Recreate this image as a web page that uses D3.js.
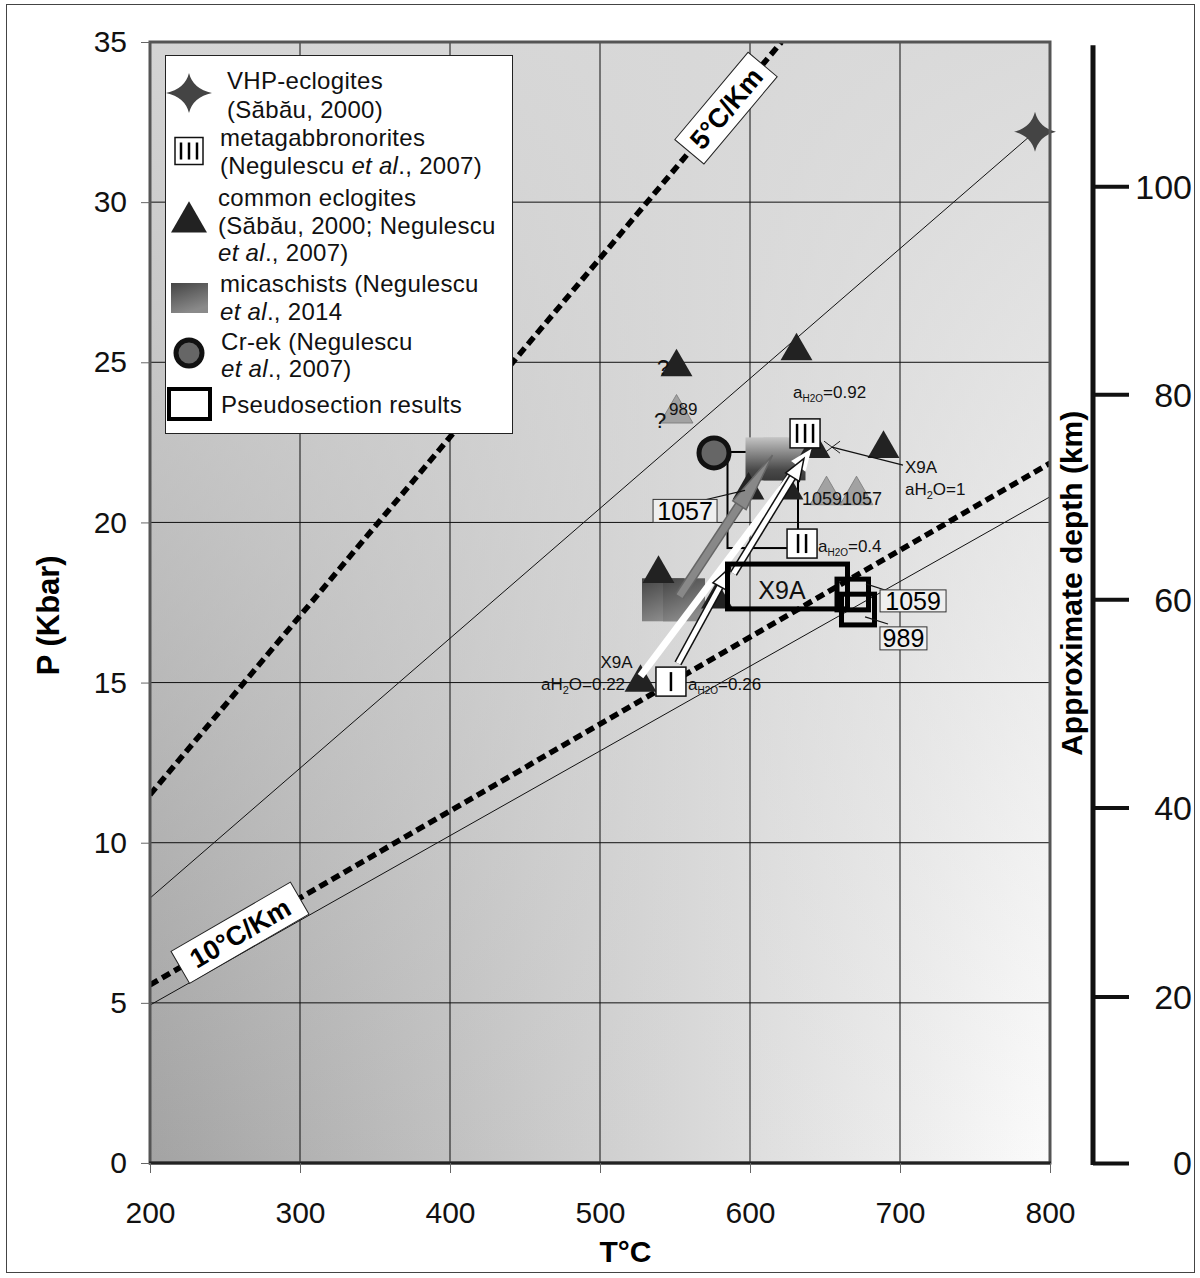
<!DOCTYPE html>
<html><head><meta charset="utf-8">
<script src="https://cdn.jsdelivr.net/npm/d3@7"></script>
<style>body{margin:0;background:#fff} svg{display:block;font-family:"Liberation Sans",Arial,sans-serif}</style>
</head><body><svg id="c" width="1200" height="1278"></svg>
<script>
// ---------- data ----------
const temperatureTicks=[200,300,400,500,600,700,800];
const pressureTicks=[0,5,10,15,20,25,30,35];
const depthTicks=[0,20,40,60,80,100];
const depthTickPressure=[0,5.2,11.1,17.6,24.0,30.5];

const geotherm5=[[200,11.5],[621,35]];
const geotherm10=[[200,5.56],[800,21.85]];
const thinGeotherms=[[[200,8.27],[790,32.2]],[[200,4.93],[800,20.8]]];

const vhpEclogites=[[790,32.2]];
const commonEclogites=[[551,24.85],[631,25.35],[689,22.3],[539,18.4],[527,15.0],[599,21.0],[625,21.0],[578,17.6],[643,22.3]];
const grayEclogites=[[551,23.4],[651,20.85],[671,20.85]];
const micaschistsLow=[[542,17.6],[556,17.6]];
const micaschistsHigh=[[611,22.0],[623,22.0]];
const crEk=[[576,22.17]];
const metagabbro=[{T:636.7,P:22.78,n:3},{T:634.7,P:19.34,n:2},{T:547.3,P:15.03,n:1}];
const pseudosections=[{name:"X9A",T:[585,665],P:[17.3,18.7]},{name:"1059",T:[658,679],P:[17.27,18.23]},{name:"989",T:[661,683],P:[16.8,17.76]}];
const crEkBox={T:[585,632],P:[19.2,22.2]};
const whiteArrows=[{from:[527,15.2],to:[641,22.3],outline:false},{from:[552,15.6],to:[587,18.6],outline:true},{from:[589,18.4],to:[636,22.0],outline:true}];
const micaArrow={from:[553,17.7],to:[615,22.1]};
const crossMarker=[654.7,22.35];

const boxedLabels=[{t:"1057",T:556.7,P:20.36,w:64,h:23},{t:"1059",T:708.7,P:17.55,w:66,h:22},{t:"989",T:702.3,P:16.38,w:47,h:23}];
const leaders=[[[566.7,20.67],[596.7,21.0]],[[677.3,18.08],[692,17.86]],[[676.7,17.05],[692,16.83]],[[654.7,22.35],[702,21.79]]];
const plainLabels=[{t:"?",T:542,P:24.6,s:22,a:"middle"},{t:"?",T:540,P:22.95,s:22,a:"middle"},{t:"989",T:555.5,P:23.35,s:17,a:"middle"},
 {t:"1059",T:634.7,P:20.55,s:18,a:"start"},{t:"1057",T:661.3,P:20.55,s:18,a:"start"},
 {t:"X9A",T:703.3,P:21.54,s:17,a:"start"},{t:"X9A",T:511,P:15.45,s:17,a:"middle"},{t:"X9A",T:621.3,P:17.6,s:25,a:"middle"}];
const waterLabels=[{kind:"a",v:"=0.92",T:628.7,P:23.88,a:"start"},{kind:"a",v:"=0.4",T:645.3,P:19.08,a:"start"},{kind:"a",v:"=0.26",T:558.7,P:14.77,a:"start"},
 {kind:"H",v:"=1",T:703.3,P:20.86,a:"start"},{kind:"H",v:"=0.22",T:516.7,P:14.77,a:"end"}];
const geothermLabels=[{t:"5°C/Km",T:584,line:geotherm5,w:114,h:38},{t:"10°C/Km",T:260,line:geotherm10,w:138,h:37}];

const legendItems=[
 {sym:"star",lines:[["VHP-eclogites"],["(Săbău, 2000)"]]},
 {sym:"gabbro",lines:[["metagabbronorites"],["(Negulescu ",["et al"],"., 2007)"]]},
 {sym:"tri",lines:[["common eclogites"],["(Săbău, 2000; Negulescu"],[["et al"],"., 2007)"]]},
 {sym:"mica",lines:[["micaschists (Negulescu"],[["et al"],"., 2014"]]},
 {sym:"circle",lines:[["Cr-ek (Negulescu"],[["et al"],"., 2007)"]]},
 {sym:"pseudo",lines:[["Pseudosection results"]]}
];

// ---------- scales ----------
const svg=d3.select("#c");
const x=d3.scaleLinear().domain([200,800]).range([150,1050]);
const y=d3.scaleLinear().domain([0,35]).range([1163,42]);
const depthY=d3.scaleLinear().domain(depthTicks).range(depthTickPressure.map(p=>y(p)));
const X=p=>x(p[0]), Y=p=>y(p[1]);

// outer frame
svg.append("rect").attr("x",6.5).attr("y",4.5).attr("width",1188).attr("height",1268).attr("fill","#fff").attr("stroke","#444").attr("stroke-width",1);

const defs=svg.append("defs");
const gh=defs.append("linearGradient").attr("id","gh").attr("x1","0").attr("x2","1").attr("y1","0").attr("y2","0");
gh.append("stop").attr("offset","0").attr("stop-color","#a3a3a3");
gh.append("stop").attr("offset","1").attr("stop-color","#fbfbfb");
const gv=defs.append("linearGradient").attr("id","gv").attr("x1","0").attr("x2","0").attr("y1","0").attr("y2","1");
gv.append("stop").attr("offset","0").attr("stop-color","#d8d8d8").attr("stop-opacity",0.93);
gv.append("stop").attr("offset","1").attr("stop-color","#d8d8d8").attr("stop-opacity",0);
const mg=defs.append("linearGradient").attr("id","mica").attr("x1","0").attr("x2","0.4").attr("y1","0").attr("y2","1");
mg.append("stop").attr("offset","0").attr("stop-color","#444");
mg.append("stop").attr("offset","1").attr("stop-color","#8a8a8a");
const mg2=defs.append("linearGradient").attr("id","mica2").attr("x1","0").attr("x2","0").attr("y1","0").attr("y2","1");
mg2.append("stop").attr("offset","0").attr("stop-color","#c4c4c4");
mg2.append("stop").attr("offset","0.75").attr("stop-color","#4a4a4a");
mg2.append("stop").attr("offset","1").attr("stop-color","#3a3a3a");
defs.append("clipPath").attr("id","clip").append("rect").attr("x",x(200)).attr("y",y(35)).attr("width",x(800)-x(200)).attr("height",y(0)-y(35));

const pw=x(800)-x(200), ph=y(0)-y(35);
svg.append("rect").attr("x",x(200)).attr("y",y(35)).attr("width",pw).attr("height",ph).attr("fill","url(#gh)");
svg.append("rect").attr("x",x(200)).attr("y",y(35)).attr("width",pw).attr("height",ph).attr("fill","url(#gv)");

// grid
const grid=svg.append("g").attr("stroke","#111").attr("stroke-width",1);
temperatureTicks.slice(1,-1).forEach(t=>grid.append("line").attr("x1",x(t)).attr("x2",x(t)).attr("y1",y(0)).attr("y2",y(35)));
pressureTicks.slice(1,-1).forEach(p=>grid.append("line").attr("x1",x(200)).attr("x2",x(800)).attr("y1",y(p)).attr("y2",y(p)));

const plot=svg.append("g").attr("clip-path","url(#clip)");
const line=d3.line().x(X).y(Y);
thinGeotherms.forEach(l=>plot.append("path").attr("d",line(l)).attr("fill","none").attr("stroke","#111").attr("stroke-width",1));
[geotherm5,geotherm10].forEach(l=>plot.append("path").attr("d",line(l)).attr("fill","none").attr("stroke","#000").attr("stroke-width",5.5).attr("stroke-dasharray","9,5"));

// geotherm labels
geothermLabels.forEach(g=>{
  const [a,b]=g.line; const P=a[1]+(b[1]-a[1])*(g.T-a[0])/(b[0]-a[0]);
  const ang=Math.atan2(Y(b)-Y(a),X(b)-X(a))*180/Math.PI;
  const gg=svg.append("g").attr("transform",`translate(${x(g.T)},${y(P)}) rotate(${ang})`);
  gg.append("rect").attr("x",-g.w/2).attr("y",-g.h/2).attr("width",g.w).attr("height",g.h).attr("fill","#fff").attr("stroke","#222").attr("stroke-width",1);
  gg.append("text").attr("text-anchor","middle").attr("dy","0.36em").attr("font-size",27).attr("font-weight","bold").text(g.t);
});

// thin Cr-ek box
plot.append("rect").attr("x",x(crEkBox.T[0])).attr("y",y(crEkBox.P[1])).attr("width",x(crEkBox.T[1])-x(crEkBox.T[0])).attr("height",y(crEkBox.P[0])-y(crEkBox.P[1])).attr("fill","none").attr("stroke","#000").attr("stroke-width",2);

// symbols
const triPath=s=>d3.symbol(d3.symbolTriangle,s)();
function starPath(rx,ry,w){return `M${rx},0 Q${w},${w} 0,${ry} Q${-w},${w} ${-rx},0 Q${-w},${-w} 0,${-ry} Q${w},${-w} ${rx},0Z`;}

// micaschists
micaschistsLow.forEach(p=>plot.append("rect").attr("x",X(p)-21).attr("y",Y(p)-21).attr("width",42).attr("height",43).attr("fill","url(#mica)"));
micaschistsHigh.forEach(p=>plot.append("rect").attr("x",X(p)-21).attr("y",Y(p)-21).attr("width",42).attr("height",43).attr("fill","url(#mica2)"));

// gray triangles
grayEclogites.forEach(p=>plot.append("path").attr("d",triPath(470)).attr("transform",`translate(${X(p)},${Y(p)})`).attr("fill","#a2a2a2").attr("stroke","#777").attr("stroke-width",0.8));
// dark triangles
commonEclogites.forEach(p=>plot.append("path").attr("d",triPath(440)).attr("transform",`translate(${X(p)},${Y(p)})`).attr("fill","#222"));

// arrows
function drawArrow(g,a,b,opt){
  const x0=X(a),y0=Y(a),x1=X(b),y1=Y(b);
  const L=Math.hypot(x1-x0,y1-y0), ux=(x1-x0)/L, uy=(y1-y0)/L, nx=-uy, ny=ux;
  const hl=opt.hl, hw=opt.hw, bx=x1-ux*hl, by=y1-uy*hl;
  const head=`M${x1},${y1}L${bx+nx*hw},${by+ny*hw}L${bx-nx*hw},${by-ny*hw}Z`;
  if(opt.outline) g.append("line").attr("x1",x0).attr("y1",y0).attr("x2",bx).attr("y2",by).attr("stroke",opt.oc).attr("stroke-width",opt.w+3);
  g.append("line").attr("x1",x0).attr("y1",y0).attr("x2",bx+ux*2).attr("y2",by+uy*2).attr("stroke",opt.c).attr("stroke-width",opt.w);
  g.append("path").attr("d",head).attr("fill",opt.c).attr("stroke",opt.outline?opt.oc:"none").attr("stroke-width",1.5);
}
drawArrow(plot,micaArrow.from,micaArrow.to,{c:"#888",oc:"#666",outline:true,w:7,hl:60,hw:8});
whiteArrows.forEach(a=>drawArrow(plot,a.from,a.to,{c:"#fff",oc:"#111",outline:a.outline,w:a.outline?5:7,hl:22,hw:a.outline?8:9}));

// Cr-ek
crEk.forEach(p=>plot.append("circle").attr("cx",X(p)).attr("cy",Y(p)).attr("r",15).attr("fill","#666").attr("stroke","#111").attr("stroke-width",5));

// pseudosection rectangles
pseudosections.forEach(r=>plot.append("rect").attr("x",x(r.T[0])).attr("y",y(r.P[1])).attr("width",x(r.T[1])-x(r.T[0])).attr("height",y(r.P[0])-y(r.P[1])).attr("fill","none").attr("stroke","#000").attr("stroke-width",5));

// metagabbro boxes
function gabbro(g,cx,cy,n,w,h){
  g.append("rect").attr("x",cx-w/2).attr("y",cy-h/2).attr("width",w).attr("height",h).attr("fill","#fff").attr("stroke","#111").attr("stroke-width",1.5);
  for(let i=0;i<n;i++){const xx=cx+(i-(n-1)/2)*8; g.append("line").attr("x1",xx).attr("x2",xx).attr("y1",cy-h/2+5).attr("y2",cy+h/2-5).attr("stroke","#000").attr("stroke-width",2.5);}
}
metagabbro.forEach(m=>gabbro(plot,x(m.T),y(m.P),m.n,30,29));

// cross marker + leaders
plot.append("path").attr("d",`M${X(crossMarker)-8},${Y(crossMarker)-6}L${X(crossMarker)+8},${Y(crossMarker)+6}M${X(crossMarker)-8},${Y(crossMarker)+6}L${X(crossMarker)+8},${Y(crossMarker)-6}`).attr("stroke","#222").attr("stroke-width",1);
leaders.forEach(l=>plot.append("path").attr("d",line(l)).attr("stroke","#111").attr("stroke-width",1.2).attr("fill","none"));

// stars
vhpEclogites.forEach(p=>svg.append("path").attr("d",starPath(21,20,4)).attr("transform",`translate(${X(p)},${Y(p)})`).attr("fill","#444"));

// labels
boxedLabels.forEach(b=>{
  const cx=x(b.T),cy=y(b.P);
  plot.append("rect").attr("x",cx-b.w/2).attr("y",cy-b.h/2).attr("width",b.w).attr("height",b.h).attr("fill","#efefef").attr("stroke","#333").attr("stroke-width",1);
  plot.append("text").attr("x",cx).attr("y",cy).attr("dy","0.36em").attr("text-anchor","middle").attr("font-size",25).text(b.t);
});
plainLabels.forEach(l=>plot.append("text").attr("x",x(l.T)).attr("y",y(l.P)).attr("text-anchor",l.a).attr("font-size",l.s).attr("fill","#111").text(l.t));
waterLabels.forEach(w=>{
  const t=plot.append("text").attr("x",x(w.T)).attr("y",y(w.P)).attr("text-anchor",w.a).attr("font-size",17).attr("fill","#111");
  if(w.kind==="a"){t.append("tspan").text("a");t.append("tspan").attr("font-size",10).attr("dy",4).text("H2O");t.append("tspan").attr("dy",-4).text(w.v);}
  else{t.append("tspan").text("aH");t.append("tspan").attr("font-size",11).attr("dy",4).text("2");t.append("tspan").attr("dy",-4).text("O"+w.v);}
});

// frame
svg.append("rect").attr("x",x(200)).attr("y",y(35)).attr("width",pw).attr("height",ph).attr("fill","none").attr("stroke","#555").attr("stroke-width",3);
svg.append("line").attr("x1",x(200)-1).attr("x2",x(800)+1).attr("y1",y(0)).attr("y2",y(0)).attr("stroke","#222").attr("stroke-width",3);

// axes
const ax=svg.append("g").attr("transform",`translate(${x(200)},0)`).call(d3.axisLeft(y).tickValues(pressureTicks).tickSize(9).tickPadding(14));
ax.select(".domain").remove();
ax.selectAll("line").attr("stroke","#666");
ax.selectAll("text").attr("font-size",30).attr("font-family","Liberation Sans, Arial").attr("fill","#111");
const bx=svg.append("g").attr("transform",`translate(0,${y(0)})`).call(d3.axisBottom(x).tickValues(temperatureTicks).tickSize(10));
bx.select(".domain").remove();
bx.selectAll("line").attr("stroke","#666");
bx.selectAll("text").attr("y",60).attr("dy",0).attr("font-size",30).attr("font-family","Liberation Sans, Arial").attr("fill","#111");

const rx=1093;
svg.append("line").attr("x1",rx).attr("x2",rx).attr("y1",y(34.9)).attr("y2",y(0)+2).attr("stroke","#111").attr("stroke-width",5);
const ra=svg.append("g").attr("transform",`translate(${rx},0)`).call(d3.axisRight(depthY).tickValues(depthTicks).tickSize(36));
ra.select(".domain").remove();
ra.selectAll("line").attr("stroke","#111").attr("stroke-width",4);
ra.selectAll("text").attr("x",99).attr("text-anchor","end").attr("dy","0.35em").attr("font-size",34).attr("font-family","Liberation Sans, Arial").attr("fill","#111");

svg.append("text").attr("transform",`translate(59,${y(17.1)}) rotate(-90)`).attr("text-anchor","middle").attr("font-size",31).attr("font-weight","bold").text("P (Kbar)");
svg.append("text").attr("x",x(517)).attr("y",1262).attr("text-anchor","middle").attr("font-size",30).attr("font-weight","bold").text("T°C");
svg.append("text").attr("transform",`translate(1082,${y(18.1)}) rotate(-90)`).attr("text-anchor","middle").attr("font-size",30).attr("font-weight","bold").text("Approximate depth (km)");

// legend
const lg=svg.append("g");
lg.append("rect").attr("x",165.5).attr("y",55.5).attr("width",347).attr("height",378).attr("fill","#fff").attr("stroke","#222").attr("stroke-width",1);
const legendBase=[[89,118],[146,174],[206,234,261],[292,320],[350,377],[413]];
const legendTextX=[227,220,218,220,221,221];
const legendSymY=[93,151,219,298,353,404];
legendItems.forEach((it,i)=>{
  it.lines.forEach((ln,j)=>{
    const t=lg.append("text").attr("x",legendTextX[i]).attr("y",legendBase[i][j]).attr("font-size",24).attr("letter-spacing",0.3).attr("fill","#111");
    ln.forEach(seg=>{ if(Array.isArray(seg)) t.append("tspan").attr("font-style","italic").text(seg[0]); else t.append("tspan").text(seg);});
  });
  const midY=legendSymY[i], sx=189;
  if(it.sym==="star") lg.append("path").attr("d",starPath(23,20,4)).attr("transform",`translate(${sx},${midY})`).attr("fill","#444");
  if(it.sym==="gabbro") gabbro(lg,sx,midY,3,28,27);
  if(it.sym==="tri") lg.append("path").attr("d",triPath(560)).attr("transform",`translate(${sx},${midY+3})`).attr("fill","#222");
  if(it.sym==="mica") lg.append("rect").attr("x",sx-18).attr("y",midY-15).attr("width",37).attr("height",30).attr("fill","url(#mica)");
  if(it.sym==="circle") lg.append("circle").attr("cx",sx).attr("cy",midY).attr("r",13).attr("fill","#666").attr("stroke","#111").attr("stroke-width",5);
  if(it.sym==="pseudo") lg.append("rect").attr("x",sx-20).attr("y",midY-15).attr("width",41).attr("height",30).attr("fill","#fff").attr("stroke","#000").attr("stroke-width",4);
});
</script></body></html>
